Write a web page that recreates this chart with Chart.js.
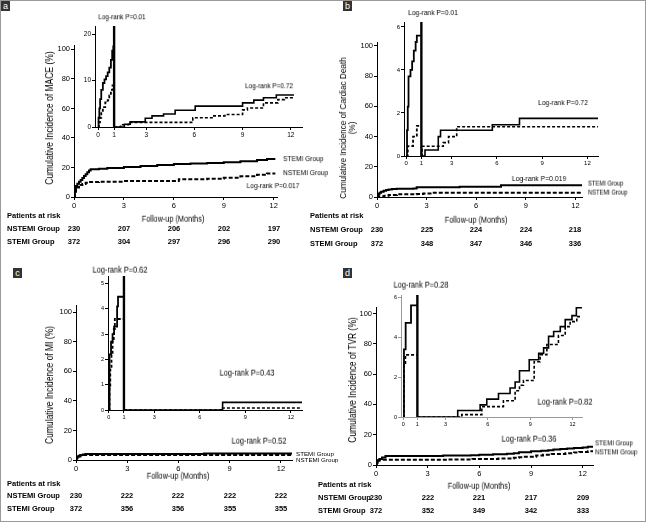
<!DOCTYPE html>
<html><head><meta charset="utf-8">
<script src="https://cdn.jsdelivr.net/npm/chart.js@4.4.1/dist/chart.umd.min.js"></script>
<style>
html,body{margin:0;padding:0;background:#fff;}
#fig{position:relative;width:646px;height:522px;overflow:hidden;background:#fff;}
#frame{position:absolute;left:0;top:0;width:646px;height:522px;box-sizing:border-box;border:1px solid #9a9a9a;pointer-events:none;}
canvas{position:absolute;}
.t{position:absolute;white-space:nowrap;line-height:1;color:#000;font-family:'Liberation Sans',Arial,sans-serif;will-change:transform;-webkit-font-smoothing:antialiased;}
.tag{position:absolute;background:#333;color:#fff;font:9px/10px 'Liberation Sans',Arial,sans-serif;width:9px;height:10px;text-align:center;}
</style></head><body><div id="fig"><div id="frame"></div></div>
<script>
// ---- tick labels ----
const monthTicks=[0,3,6,9,12];
const pctTicks=[0,20,40,60,80,100];
const insetMonthTicks=[0,1,3,6,9,12];
const aInsetPctTicks=[0,10,20];
const bInsetPctTicks=[0,2,4,6];
const cInsetPctTicks=[0,1,2,3,4,5];
const dInsetPctTicks=[0,2,4,6];

// ---- panel a: MACE ----
const aMainStemiT=[0,0.05,0.12,0.2,0.3,0.4,0.5,0.6,0.7,0.8,0.9,1.0,1.5,2,3,4,5,6,7,8,9,10,11,11.6,12.1];
const aMainStemiV=[0,5,7.5,9,10.3,11.5,12.8,14.2,15.5,16.8,18.0,18.8,19.2,19.7,20.4,21.0,21.6,22.3,22.7,23.1,23.6,24.3,25.0,25.7,25.7];
const aMainNstemiT=[0,0.05,0.12,0.2,0.3,0.4,0.5,0.7,0.9,1.5,3,5.8,6.3,8,9,10,11,11.6,12.1];
const aMainNstemiV=[0,3.5,5.5,6.5,7.5,8.2,8.8,9.6,10.1,10.4,10.8,10.9,12.0,12.4,13.1,14.0,15.0,16.0,16.0];
const aEarlyStemiT=[0,0.03,0.08,0.13,0.2,0.3,0.4,0.5,0.6,0.7,0.8,0.88,0.95,1.0];
const aEarlyStemiV=[0,2,4,6,8,9.5,10.3,11,11.8,12.8,14.5,16.5,17.4,17.6];
const aEarlyNstemiT=[0,0.05,0.12,0.2,0.3,0.45,0.6,0.7,0.8,0.9,1.0];
const aEarlyNstemiV=[0,1,2,3.5,4.3,5.3,5.8,6.8,8,9,9.1];
const aLateStemiT=[1,1.64,2.0,2.94,3.36,4.08,4.8,6.05,9.0,9.7,10.3,11.1,12.2];
const aLateStemiV=[0,0.6,1.1,1.9,2.4,2.8,3.6,4.5,5.2,5.8,6.3,6.9,6.9];
const aLateNstemiT=[1,1.4,1.9,5.9,7.1,7.9,9.0,9.3,10.3,11.2,11.6,12.2];
const aLateNstemiV=[0,0.5,1.0,2.0,2.4,2.7,3.7,4.1,5.2,5.9,6.3,6.3];
const aBreakV=[0,21.8];
const aRiskNstemi=[230,207,206,202,197];
const aRiskStemi=[372,304,297,296,290];

// ---- panel b: cardiac death ----
const bMainStemiT=[0,0.03,0.08,0.15,0.25,0.4,0.55,0.7,0.9,1.2,2.2,2.4,5.0,7.5,12.4];
const bMainStemiV=[0,1,2,2.8,3.5,4.1,4.6,5.0,5.3,5.5,5.6,6.5,6.8,7.7,7.7];
const bMainNstemiT=[0,0.1,0.45,0.7,1.2,2.4,2.8,3.3,12.4];
const bMainNstemiV=[0,0.5,0.9,1.4,1.8,2.0,2.3,2.8,2.8];
const bEarlyStemiT=[0,0.05,0.1,0.15,0.28,0.39,0.5,0.62,0.7,1.0];
const bEarlyStemiV=[0,1.2,2.3,3.7,4.0,4.4,4.9,5.3,5.6,5.6];
const bEarlyNstemiT=[0,0.1,0.45,0.7,1.0];
const bEarlyNstemiV=[0,0.46,0.9,1.4,1.4];
const bLateStemiT=[1,1.24,2.12,2.27,5.7,7.5,12.7];
const bLateStemiV=[0,0.28,0.9,1.2,1.45,1.75,1.75];
const bLateNstemiT=[1,1.05,2.45,2.8,3.34,12.7];
const bLateNstemiV=[0,0.45,0.62,0.9,1.36,1.36];
const bBreakV=[0,6.23];
const bRiskNstemi=[230,225,224,224,218];
const bRiskStemi=[372,348,347,346,336];

// ---- panel c: MI ----
const cMainStemiT=[0,0.03,0.08,0.15,0.25,0.4,0.55,7.5,12.65];
const cMainStemiV=[0,1.5,2.2,2.8,3.3,3.7,4.0,4.4,4.4];
const cMainNstemiT=[0,0.03,0.08,0.15,0.25,0.4,12.65];
const cMainNstemiV=[0,1.1,1.8,2.4,2.9,3.3,3.3];
const cEarlyStemiT=[0,0.05,0.15,0.25,0.35,0.55,0.61,1.0];
const cEarlyStemiV=[0,2.2,2.7,3.0,3.3,4.1,4.48,4.48];
const cEarlyNstemiT=[0,0.05,0.1,0.18,0.25,0.33,0.4,1.0];
const cEarlyNstemiV=[0,0.9,1.6,2.2,2.8,3.2,3.6,3.6];
const cLateStemiT=[1,7.5,12.73];
const cLateStemiV=[0,0.3,0.3];
const cLateNstemiT=[1,7.5,12.73];
const cLateNstemiV=[0,0.08,0.08];
const cBreakV=[0,5.3];
const cRiskNstemi=[230,222,222,222,222];
const cRiskStemi=[372,356,356,355,355];

// ---- panel d: TVR ----
const dMainStemiT=[0,0.05,0.1,0.2,0.35,0.55,3.9,5.5,6.0,6.8,7.6,8.0,8.3,9.0,9.6,10.0,10.3,10.7,11.1,11.5,12.0,12.3,12.6];
const dMainStemiV=[0,1.5,3.2,4.0,5.0,5.9,6.2,6.5,6.8,7.1,7.5,7.8,8.4,9.0,9.4,9.8,10.3,10.6,10.9,11.3,11.6,12.0,12.0];
const dMainNstemiT=[0,0.05,0.12,0.2,4.2,5.6,7.1,8.0,8.3,8.5,9.3,9.7,10.2,11.0,11.5,11.8,12.3,12.6];
const dMainNstemiV=[0,1.5,2.8,3.4,3.6,4.0,4.3,4.8,5.1,5.4,6.3,6.7,7.3,7.8,8.3,8.6,9.0,9.0];
const dEarlyStemiT=[0,0.05,0.17,0.55,1.0];
const dEarlyStemiV=[0,3.4,4.74,5.62,5.62];
const dEarlyNstemiT=[0,0.05,0.15,1.0];
const dEarlyNstemiV=[0,2.6,3.13,3.13];
const dLateStemiT=[1,3.86,5.45,5.92,6.75,7.57,7.93,8.24,8.93,9.6,9.95,10.3,10.66,11.13,11.48,11.96,12.27,12.67];
const dLateStemiV=[0,0.33,0.61,0.9,1.18,1.46,1.76,2.33,2.88,3.2,3.48,4.06,4.3,4.55,4.9,5.1,5.5,5.5];
const dLateNstemiT=[1,4.15,5.57,7.1,7.93,8.24,8.52,9.28,9.7,10.18,11.0,11.48,11.83,12.3,12.55];
const dLateNstemiV=[0,0.12,0.52,0.82,1.32,1.6,1.84,2.78,3.14,3.65,4.1,4.55,4.8,5.05,5.05];
const dBreakV=[0,6.14];
const dRiskNstemi=[230,222,221,217,209];
const dRiskStemi=[372,352,349,342,333];

const breakT=[1,1];
const groups=['NSTEMI Group','STEMI Group'];

// ---------------- drawing ----------------
const FONT="'Liberation Sans',Arial,sans-serif";
const fig=document.getElementById('fig');
const YW=26, XH=16, PT=10, PR=12;
const NARROW=0.85;

function pts(t,v){return t.map((x,i)=>({x:x,y:v[i]}));}
function ds(t,v,dash,w){return {data:pts(t,v),borderColor:'#000',borderWidth:w,borderDash:dash,stepped:true,pointRadius:0,pointHoverRadius:0,fill:false,tension:0};}
function vline(t,v,w){return {data:pts(t,v),borderColor:'#000',borderWidth:w,stepped:false,pointRadius:0,fill:false};}

function km(area,xr,yr,xt,yt,sets,o){
  const c=document.createElement('canvas');
  const lx=Math.round(area.l)-YW, ty=Math.round(area.t)-PT;
  const W=Math.round(area.r)-lx+PR, H=Math.round(area.b)-ty+XH;
  c.width=W;c.height=H;c.style.width=W+'px';c.style.height=H+'px';
  c.style.left=lx+'px';c.style.top=ty+'px';
  fig.appendChild(c);
  const col=o.axis||'#000';
  const mk=()=>({grid:{display:true,drawOnChartArea:false,drawTicks:true,tickLength:3,color:col,tickColor:col,lineWidth:1},
    border:{display:true,color:col,width:1},
    ticks:{font:{family:FONT,size:o.fs},color:'#000',padding:1,maxRotation:0,autoSkip:false,callback:v=>''+v}});
  const ch=new Chart(c,{type:'line',data:{datasets:sets},options:{
    responsive:false,animation:false,events:[],
    layout:{padding:{top:PT,right:PR,left:0,bottom:0}},
    plugins:{legend:{display:false},tooltip:{enabled:false}},
    scales:{
      x:Object.assign({type:'linear',min:xr[0],max:xr[1],afterBuildTicks:s=>{s.ticks=xt.map(v=>({value:v}));},afterFit:s=>{s.height=XH;}},mk()),
      y:Object.assign({type:'linear',min:yr[0],max:yr[1],afterBuildTicks:s=>{s.ticks=yt.map(v=>({value:v}));},afterFit:s=>{s.width=YW;}},mk())
    }}});
  ch._lx=lx;ch._ty=ty;
  return ch;
}

function txt(s,x,y,o){
  o=o||{};
  const d=document.createElement('div');
  d.className='t';
  d.innerHTML=s;
  d.style.left=x+'px';d.style.top=y+'px';
  d.style.fontSize=(o.size||8)+'px';
  if(o.bold)d.style.fontWeight='bold';
  if(o.lh)d.style.lineHeight=o.lh+'px';
  if(o.center)d.style.textAlign='center';
  let tr=(o.center?'translate(-50%,-50%)':'translate(0,-50%)');
  if(o.rot)tr+=' rotate(-90deg)';
  if(o.narrow){tr+=' scaleX('+NARROW+')';}
  d.style.transformOrigin=o.center?'50% 50%':'0 50%';
  d.style.transform=tr;
  fig.appendChild(d);
  return d;
}
function tag(s,x,y){const d=document.createElement('div');d.className='tag';d.textContent=s;d.style.left=x+'px';d.style.top=y+'px';fig.appendChild(d);}

function riskTable(ch,left,rows,nst,st,fs){
  txt('Patients at risk',left,rows[0],{size:fs,bold:true});
  txt(groups[0],left,rows[1],{size:fs,bold:true});
  txt(groups[1],left,rows[2],{size:fs,bold:true});
  monthTicks.forEach((m,i)=>{
    const x=ch._lx+ch.scales.x.getPixelForValue(m);
    txt(''+nst[i],x,rows[1],{size:fs,bold:true,center:true});
    txt(''+st[i],x,rows[2],{size:fs,bold:true,center:true});
  });
}

const SOL=[], DSH=[4,2], DSHi=[3,2];
function L(size,center,extra){return Object.assign({size:size,center:center,narrow:true},extra||{});}

// panel a
const aMain=km({l:74,r:277,t:45,b:197},[0,12.2],[0,103],monthTicks,pctTicks,
  [ds(aMainStemiT,aMainStemiV,SOL,2),ds(aMainNstemiT,aMainNstemiV,DSH,2)],{fs:7.5});
km({l:94.7,r:302,t:25.6,b:127.3},[-0.19,12.7],[0,21.8],insetMonthTicks,aInsetPctTicks,
  [ds(aEarlyStemiT,aEarlyStemiV,SOL,1.8),ds(aEarlyNstemiT,aEarlyNstemiV,DSHi,1.8),
   ds(aLateStemiT,aLateStemiV,SOL,1.6),ds(aLateNstemiT,aLateNstemiV,DSHi,1.6),vline(breakT,aBreakV,2.4)],{fs:6.5});
tag('a',1,1);
txt('Log-rank P=0.01',122,17,L(7.5,true));
txt('Log-rank P=0.72',269,86,L(7.6,true));
txt('STEMI Group',283,159,L(7.8,false));
txt('NSTEMI Group',283,173,L(7.8,false));
txt('Log-rank P=0.017',273,186,L(7.8,true));
txt('Cumulative Incidence of MACE (%)',50,118,L(10,true,{rot:true}));
txt('Follow-up (Months)',173,219,L(8.6,true));
riskTable(aMain,7,[216,229,241.5],aRiskNstemi,aRiskStemi,7.5);

// panel b
const bMain=km({l:376.7,r:581.7,t:41.7,b:196.7},[0,12.4],[0,102.6],monthTicks,pctTicks,
  [ds(bMainStemiT,bMainStemiV,SOL,2),ds(bMainNstemiT,bMainNstemiV,DSH,2)],{fs:7.5});
km({l:404,r:598.3,t:21.7,b:156},[-0.15,12.7],[0,6.23],insetMonthTicks,bInsetPctTicks,
  [ds(bEarlyStemiT,bEarlyStemiV,SOL,1.8),ds(bEarlyNstemiT,bEarlyNstemiV,DSHi,1.8),
   ds(bLateStemiT,bLateStemiV,SOL,1.6),ds(bLateNstemiT,bLateNstemiV,DSHi,1.6),vline(breakT,bBreakV,2.4)],{fs:6});
tag('b',343,1);
txt('Log-rank P=0.01',433,13,L(7.9,true));
txt('Log-rank P=0.72',563,103,L(7.9,true));
txt('Log-rank P=0.019',539,179,L(8,true));
txt('STEMI Group',588,184,L(6.8,false));
txt('NSTEMI Group',588,193,L(6.8,false));
txt('Cumulative Incidence of Cardiac Death<br>(%)',347,128,L(9.6,true,{rot:true,lh:9}));
txt('Follow-up (Months)',476,220,L(8.6,true));
riskTable(bMain,310,[216,230,243.5],bRiskNstemi,bRiskStemi,7.5);

// panel c
const cMain=km({l:75.5,r:291.7,t:305,b:460},[0,12.65],[0,104.9],monthTicks,pctTicks,
  [ds(cMainStemiT,cMainStemiV,SOL,2),ds(cMainNstemiT,cMainNstemiV,DSH,2)],{fs:7.5});
km({l:108.3,r:301.7,t:275.7,b:410},[-0.05,12.73],[0,5.3],insetMonthTicks,cInsetPctTicks,
  [ds(cEarlyStemiT,cEarlyStemiV,SOL,1.8),ds(cEarlyNstemiT,cEarlyNstemiV,DSHi,1.8),
   ds(cLateStemiT,cLateStemiV,SOL,1.6),ds(cLateNstemiT,cLateNstemiV,DSHi,1.6),vline(breakT,cBreakV,2.4)],{fs:5.5});
tag('c',13,268);
txt('Log-rank P=0.62',120,270,L(8.7,true));
txt('Log-rank P=0.43',247,373,L(8.7,true));
txt('Log-rank P=0.52',259,441,L(8.7,true));
txt('STEMI Group',296,454,{size:6.2});
txt('NSTEMI Group',296,460,{size:6.2});
txt('Cumulative Incidence of MI (%)',50,385,L(10,true,{rot:true}));
txt('Follow-up (Months)',178,476,L(8.6,true));
riskTable(cMain,7,[483.5,496,508.5],cRiskNstemi,cRiskStemi,7.5);

// panel d
const dMain=km({l:376,r:593.3,t:306.7,b:465},[0,12.6],[0,104.3],monthTicks,pctTicks,
  [ds(dMainStemiT,dMainStemiV,SOL,2),ds(dMainNstemiT,dMainNstemiV,DSH,2)],{fs:7.5});
km({l:401,r:581.7,t:295,b:417.3},[-0.16,12.67],[0,6.14],insetMonthTicks,dInsetPctTicks,
  [ds(dEarlyStemiT,dEarlyStemiV,SOL,1.8),ds(dEarlyNstemiT,dEarlyNstemiV,DSHi,1.8),
   ds(dLateStemiT,dLateStemiV,SOL,1.6),ds(dLateNstemiT,dLateNstemiV,DSHi,1.6),vline(breakT,dBreakV,2.4)],{fs:5.5,axis:'#999'});
tag('d',343,268);
txt('Log-rank P=0.28',421,285,L(8.7,true));
txt('Log-rank P=0.82',565,402,L(8.7,true));
txt('Log-rank P=0.36',529,439,L(8.7,true));
txt('STEMI Group',595,443,L(7.3,false));
txt('NSTEMI Group',595,452,L(7.3,false));
txt('Cumulative Incidence of TVR (%)',353,380,L(10,true,{rot:true}));
txt('Follow-up (Months)',479,486,L(8.6,true));
riskTable(dMain,318,[485,498,511],dRiskNstemi,dRiskStemi,7.5);
</script></body></html>
